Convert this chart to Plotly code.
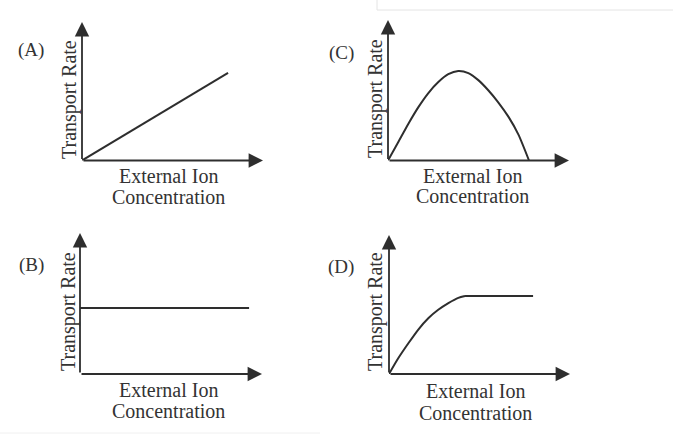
import plotly.graph_objects as go

W, H = 673, 438
INK = "#2e2e2e"
TEXT_INK = "#333333"
FONT = "Liberation Serif, Times New Roman, serif"

# Curve data for each panel (arbitrary units, axes run 0..10)
a_x = [0.0, 8.07]
a_y = [0.0, 6.32]

b_x = [0.0, 9.29]
b_y = [4.68, 4.68]

c_x = [0.0, 0.57, 1.12, 1.67, 2.23, 2.78, 3.33, 3.88, 4.44, 4.99, 5.54, 6.09, 6.65, 7.20, 7.79]
c_y = [0.0, 1.32, 2.60, 3.78, 4.80, 5.58, 6.14, 6.37, 6.22, 5.72, 5.00, 4.14, 3.12, 1.86, 0.0]

d_x = [0.0, 0.51, 1.07, 1.62, 2.17, 2.72, 3.28, 3.83, 4.20, 7.96]
d_y = [0.0, 1.13, 2.21, 3.20, 4.01, 4.62, 5.10, 5.48, 5.61, 5.61]

panel_labels = ["(A)", "(B)", "(C)", "(D)"]
y_title = "Transport Rate"
x_title_lines = ["External Ion", "Concentration"]


def px_x(p):
    return p / W


def px_y(p):
    return 1 - p / H


# Panel frames in pixels: (left, right, bottom, top)
frames = {
    "A": (82, 263, 160.5, 22),
    "B": (80, 262, 374, 233),
    "C": (388, 569, 160.5, 20),
    "D": (389, 570, 374, 235),
}
# Text anchors in pixels
label_pos = {"A": (31, 50), "B": (31, 265), "C": (341, 53), "D": (341, 267)}
ytitle_pos = {"A": (69, 100), "B": (68, 312), "C": (375, 99), "D": (375, 312)}
xtitle_pos = {
    "A": (168, 176, 197),
    "B": (168, 390, 411),
    "C": (473, 176, 196),
    "D": (475, 391, 413),
}

order = ["A", "B", "C", "D"]
# (x, y, line shape) pieces drawn in each panel
pieces = {
    "A": [(a_x, a_y, "linear")],
    "B": [(b_x, b_y, "linear")],
    "C": [(c_x, c_y, "spline")],
    "D": [(d_x[:9], d_y[:9], "spline"), (d_x[8:], d_y[8:], "linear")],
}

fig = go.Figure()
annotations = []
layout_axes = {}

for i, key in enumerate(order, start=1):
    xa = "x" if i == 1 else f"x{i}"
    ya = "y" if i == 1 else f"y{i}"
    l, r, b, t = frames[key]
    layout_axes["xaxis" if i == 1 else f"xaxis{i}"] = dict(
        domain=[px_x(l), px_x(r)], range=[0, 10], visible=False,
        anchor=ya, fixedrange=True,
    )
    layout_axes["yaxis" if i == 1 else f"yaxis{i}"] = dict(
        domain=[px_y(b), px_y(t)], range=[0, 10], visible=False,
        anchor=xa, fixedrange=True,
    )
    for xs, ys, shape in pieces[key]:
        line = dict(color=INK, width=2, shape=shape)
        if shape == "spline":
            line["smoothing"] = 0.7
        fig.add_trace(go.Scatter(
            x=xs, y=ys, xaxis=xa, yaxis=ya, mode="lines", line=line,
            hoverinfo="skip", showlegend=False,
        ))
    # axis arrows
    for (tx, ty) in [(10, 0), (0, 10)]:
        annotations.append(dict(
            x=tx, y=ty, ax=0, ay=0, xref=xa, yref=ya, axref=xa, ayref=ya,
            text="", showarrow=True, arrowhead=2, arrowsize=1.6,
            arrowwidth=1.8, arrowcolor=INK,
        ))
    lx, ly = label_pos[key]
    annotations.append(dict(
        x=px_x(lx), y=px_y(ly), xref="paper", yref="paper",
        text=panel_labels[i - 1], showarrow=False,
        font=dict(family=FONT, size=19, color=TEXT_INK),
        xanchor="center", yanchor="middle",
    ))
    tx_, ty_ = ytitle_pos[key]
    annotations.append(dict(
        x=px_x(tx_), y=px_y(ty_), xref="paper", yref="paper",
        text=y_title, showarrow=False, textangle=-90,
        font=dict(family=FONT, size=20, color=TEXT_INK),
        xanchor="center", yanchor="middle",
    ))
    cx, y1, y2 = xtitle_pos[key]
    for line_text, yy in zip(x_title_lines, (y1, y2)):
        annotations.append(dict(
            x=px_x(cx), y=px_y(yy), xref="paper", yref="paper",
            text=line_text, showarrow=False,
            font=dict(family=FONT, size=20, color=TEXT_INK),
            xanchor="center", yanchor="middle",
        ))

# faint frame edges at the top right and bottom left
shapes = [
    dict(type="line", xref="paper", yref="paper",
         x0=px_x(377), x1=1, y0=px_y(10), y1=px_y(10),
         line=dict(color="#e4e4e4", width=1)),
    dict(type="line", xref="paper", yref="paper",
         x0=px_x(377), x1=px_x(377), y0=1, y1=px_y(10),
         line=dict(color="#e4e4e4", width=1)),
    dict(type="line", xref="paper", yref="paper",
         x0=0, x1=px_x(320), y0=px_y(433), y1=px_y(433),
         line=dict(color="#f0f0f0", width=1)),
]

fig.update_layout(
    width=W, height=H, margin=dict(l=0, r=0, t=0, b=0),
    paper_bgcolor="white", plot_bgcolor="rgba(0,0,0,0)",
    annotations=annotations, shapes=shapes, **layout_axes,
)

fig.write_html("out.html", config={"displayModeBar": False})
